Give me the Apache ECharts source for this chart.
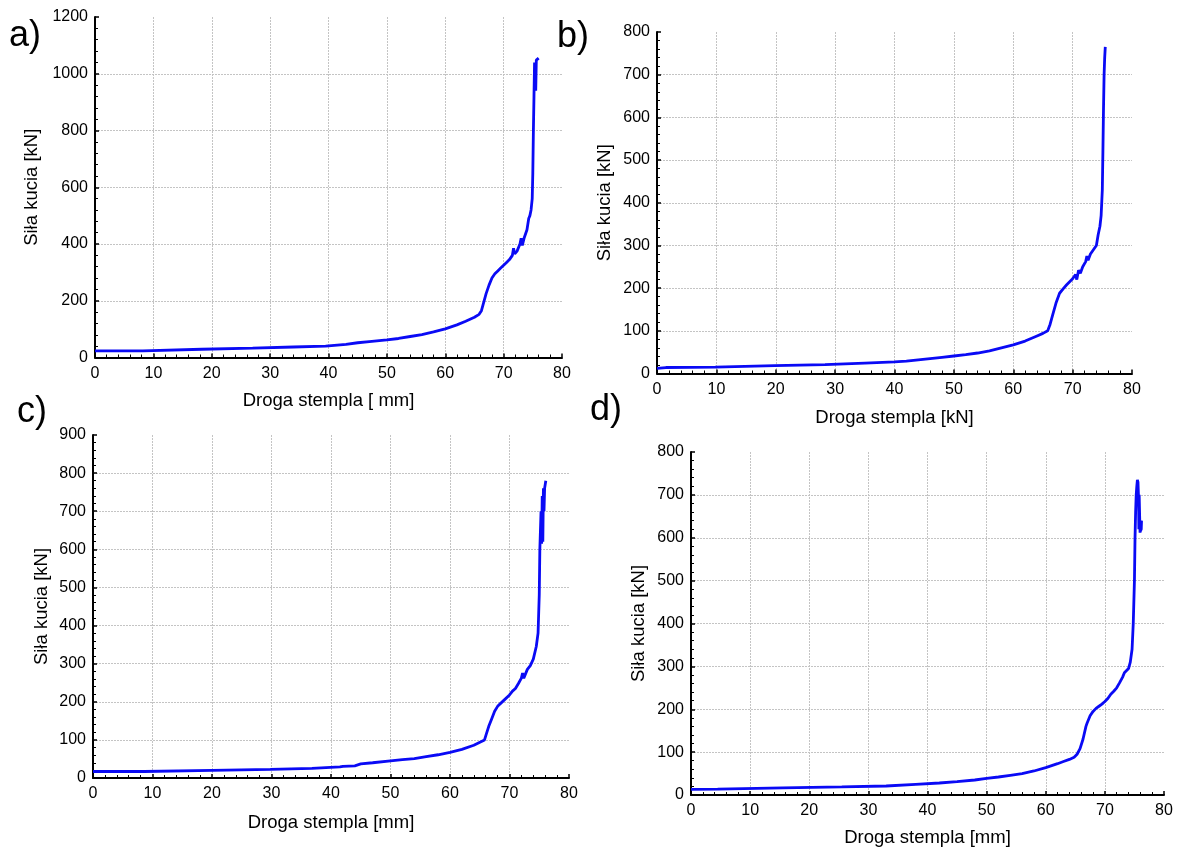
<!DOCTYPE html>
<html>
<head>
<meta charset="utf-8">
<script src="https://cdn.jsdelivr.net/npm/echarts@6/dist/echarts.min.js"></script>
<style>
html,body{margin:0;padding:0;background:#fff;}
#chart{width:1180px;height:850px;}
</style>
</head>
<body>
<div id="chart"></div>
<script>
// ---- data (x: Droga stempla, y: Siła kucia) ----
const aX = [0,8.2,8.4,18.3,18.5,27,27.2,34,34.3,39.5,39.8,43,45,47,50,52,54,56,58,60,62,63.5,65,65.8,66.2,66.6,67,67.5,68,68.5,69,69.5,70,70.5,71,71.5,71.7,71.9,72.3,72.8,73,73.2,73.5,74,74.3,74.5,74.7,74.9,75.0,75.1,75.2,75.3,75.4,75.5,75.6,75.8,76];
const aY = [23,23,28,29,32,33,36,37,39,40,44,46,52,56,62,67,74,81,90,101,115,128,142,152,165,195,225,255,280,295,305,315,325,335,345,360,385,365,375,400,420,395,420,450,490,500,520,560,650,800,920,1040,1045,940,1048,1050,1055];

const bX = [0,1.5,9.8,10,19.8,20,28.3,28.5,35,35.2,40,42,44,46,48,50,52,54,56,58,60,62,63,64,65,65.8,66.2,66.7,67.2,67.8,68.5,69,69.5,70,70.5,70.7,71,71.3,71.7,72.2,72.4,72.6,73,73.5,74,74.3,74.6,74.8,75,75.1,75.2,75.3,75.4,75.5];
const bY = [12,14,15,18,18.5,20.5,21,23.5,24.5,26,27,29,32,35,38,41,44,48,53,60,67,76,82,88,94,100,115,140,165,188,200,208,215,222,232,220,242,235,250,262,275,265,280,290,300,325,345,370,430,520,620,700,740,765];

const cX = [0,8.6,8.8,20,20.2,29.8,30,36.8,37,41.5,42,44,45,47,50,52,54,56,58,60,62,64,65.8,66.1,66.5,67,67.5,68,69,70,70.5,71,71.5,72,72.2,72.4,73,73.5,74,74.5,74.8,75,75.1,75.2,75.3,75.4,75.5,75.6,75.7,75.8,75.9,76.0,76.1];
const cY = [17,17,19.5,20,22,22.5,24.5,25,28,29,30.5,32,37,40,45,48,51,56,61,67,75,86,100,115,135,155,175,188,203,218,228,235,248,262,275,262,285,295,312,345,380,480,600,650,700,615,740,620,760,700,760,765,780];

const dX = [0,4.5,4.7,15.5,15.7,25.5,25.7,33,33.2,38,42,45,48,50,52,54,56,58,60,62,63,64,64.8,65.3,65.8,66.3,66.8,67,67.5,68,68.5,69,69.5,70,70.5,71,71.5,72,72.5,73,73.3,73.5,74,74.3,74.6,74.8,75,75.1,75.2,75.3,75.4,75.5,75.6,75.7,75.75,75.8,75.9,75.95,76.1,76.2,76.15,76.0];
const dY = [13,13.5,16,16.5,18.5,19,20.5,21,23.5,25,28,31,35,39,42,46,50,56,64,73,78,83,88,95,108,130,160,168,185,195,202,207,212,218,225,235,242,250,262,275,285,283,295,310,340,400,500,600,660,700,720,735,730,690,620,700,640,612,612,640,620,615];

const xTicks = {min:0, max:80, interval:10};
const panelLabels = ['a)','b)','c)','d)'];
const yMax = [1200, 800, 900, 800];
const yInterval = [200, 100, 100, 100];
const xNames = ['Droga stempla [ mm]','Droga stempla [kN]','Droga stempla [mm]','Droga stempla [mm]'];
const yName = 'Siła kucia [kN]';

const FONT = '"Liberation Sans", Arial, Helvetica, sans-serif';
const grids = [
  {left:95, top:17, width:467, height:340.5},
  {left:657, top:32, width:475, height:341.5},
  {left:93, top:435, width:476, height:343},
  {left:691, top:452, width:473, height:343}
];
const yGaps = [54, 43, 42, 43];
const xGaps = [34, 35, 35, 33];
const labelPos = [[9,38],[557,39],[17,414],[590,412]];

function zip(xs, ys){ return xs.map((x,i)=>[x, ys[i]]); }
const seriesData = [zip(aX,aY), zip(bX,bY), zip(cX,cY), zip(dX,dY)];

const chart = echarts.init(document.getElementById('chart'), null, {renderer:'canvas'});
const axisCommon = {
  axisLine:{show:true, onZero:false, lineStyle:{color:'#000', width:2}},
  axisTick:{show:true, inside:true, length:4, lineStyle:{color:'#000', width:1.5}},
  minorTick:{show:true, splitNumber:5, length:3, lineStyle:{color:'#000', width:1}},
  splitLine:{show:true, showMinLine:false, showMaxLine:false, lineStyle:{color:'#c4c4c4', width:1, type:[2,1]}},
  axisLabel:{color:'#000', fontSize:16, fontFamily:FONT, formatter:function(v){return String(v);}},
  nameTextStyle:{color:'#000', fontSize:18.5, fontFamily:FONT},
  nameLocation:'middle'
};
const option = {
  animation:false,
  backgroundColor:'#fff',
  grid: grids.map(g=>Object.assign({containLabel:false}, g)),
  xAxis: grids.map((g,i)=>Object.assign({}, axisCommon, {
    type:'value', gridIndex:i, min:xTicks.min, max:xTicks.max, interval:xTicks.interval,
    name:xNames[i], nameGap:xGaps[i],
    axisLabel:Object.assign({}, axisCommon.axisLabel, {margin:8})
  })),
  yAxis: grids.map((g,i)=>Object.assign({}, axisCommon, {
    type:'value', gridIndex:i, min:0, max:yMax[i], interval:yInterval[i],
    name:yName, nameGap:yGaps[i], nameRotate:90,
    axisLabel:Object.assign({}, axisCommon.axisLabel, {margin:7})
  })),
  series: seriesData.map((d,i)=>({
    type:'line', xAxisIndex:i, yAxisIndex:i, data:d, showSymbol:false, symbol:'none',
    lineStyle:{color:'#0a0af5', width:2.8}, smooth:false, clip:true
  })),
  graphic: panelLabels.map((t,i)=>({
    type:'text', left:labelPos[i][0], top:labelPos[i][1]-20,
    style:{text:t, fontSize:36, fontFamily:FONT, fill:'#000'}
  }))
};
chart.setOption(option);
</script>
</body>
</html>
